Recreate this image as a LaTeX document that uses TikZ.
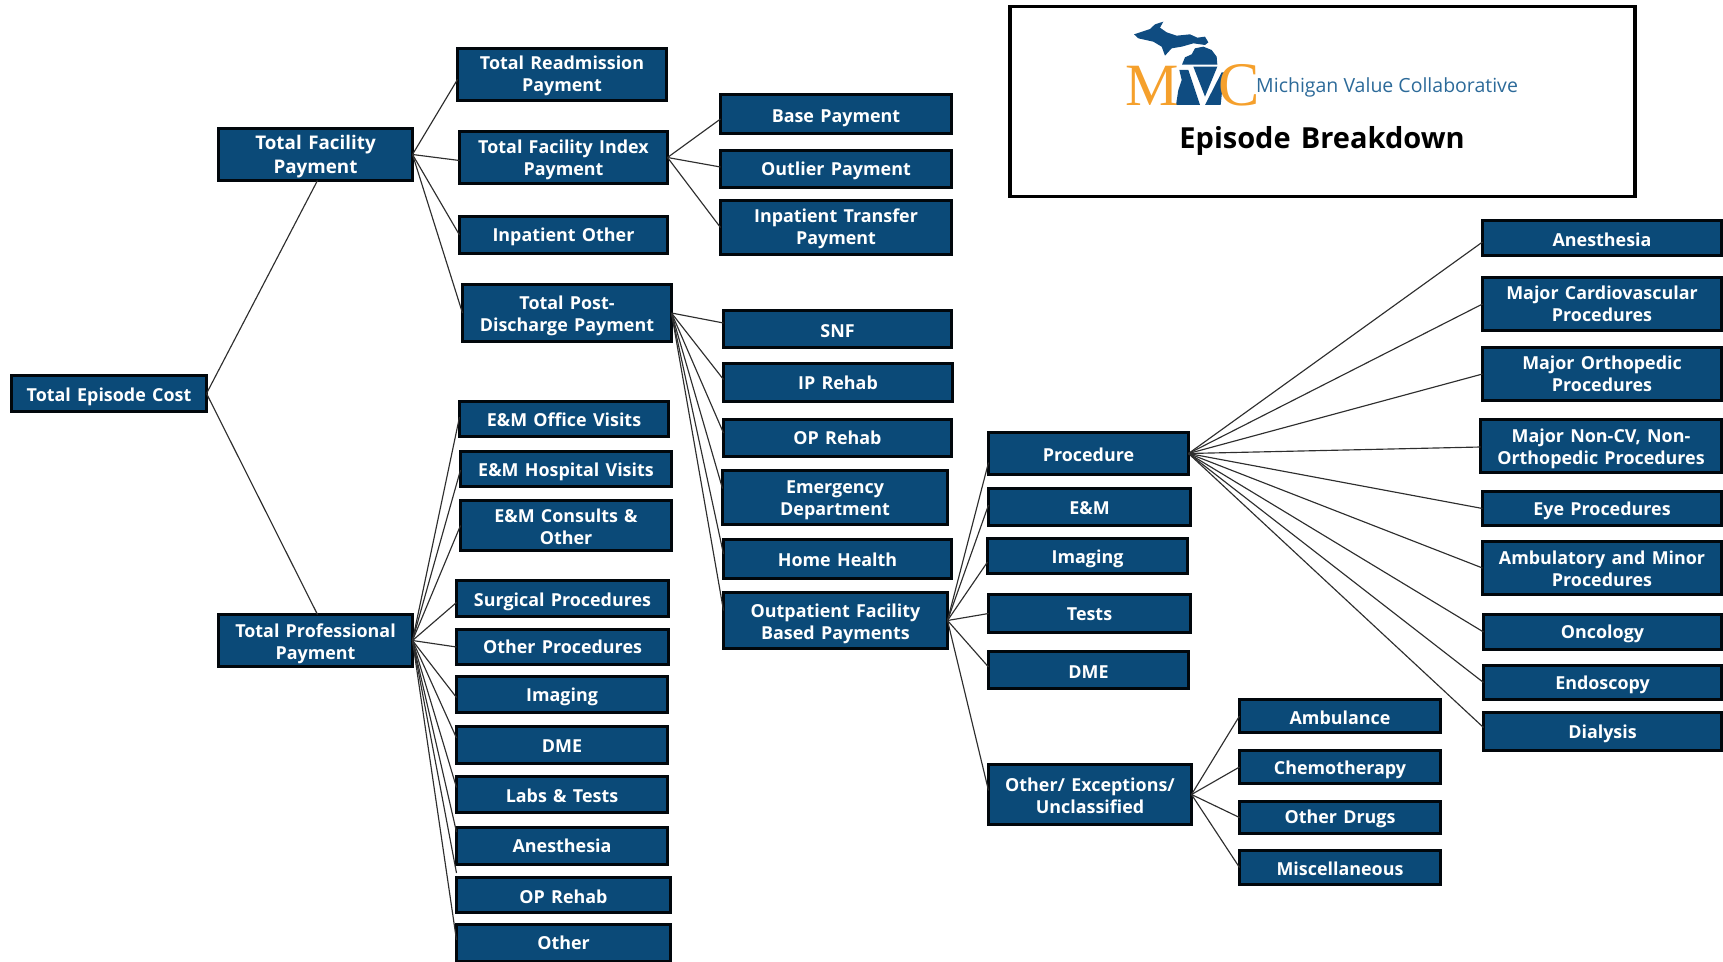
\documentclass[tikz,border=0pt]{standalone}
\usepackage{fontspec}
\setmainfont[WordSpace=1.35]{Open Sans}
\newfontfamily\logofont{Liberation Serif}
\newfontfamily\lognm{Open Sans}
\definecolor{boxblue}{HTML}{0B4A78}
\definecolor{logoblue}{HTML}{0F4C81}
\definecolor{logotxt}{HTML}{2C6A99}
\definecolor{logoor}{HTML}{F5A02C}
\definecolor{lnk}{HTML}{2E2E2E}
\tikzset{
  box/.style={draw=black!90!boxblue,line width=3pt,fill=boxblue,text=white,inner sep=0pt,outer sep=0pt,font=\fontsize{17.9}{22}\bfseries\selectfont},
  bigbox/.style={font=\fontsize{18.8}{23.5}\bfseries\selectfont},
  lk/.style={draw=lnk,line width=1.15pt},
  mich/.style={fill=logoblue,draw=none}
}
% [style]{name}{x0}{y0}{x1}{y1}{text drop}{text}
\newcommand{\bx}[8][]{\node[box,#1,minimum width={(#5-#3-3)*1pt},minimum height={(#6-#4-3)*1pt}] (#2) at ({(#3+#5)/2},{(#4+#6)/2}) {\raisebox{-#7pt}[\height][\depth]{\parbox{\dimexpr #5pt-#3pt-8pt\relax}{\centering #8}}};}
\newcommand{\cn}[3]{\draw[lk] (#1) -- ([yshift=-#3pt]#2.west);}
\begin{document}
\begin{tikzpicture}[x=1pt,y=-1pt]
\useasboundingbox (0,0) rectangle (1723,961);
\clip (0,0) rectangle (1723,961);
% header frame
\node[draw=black,line width=3.2pt,minimum width=625pt,minimum height=190pt,inner sep=0pt,outer sep=0pt] (frame) at (1322.5,101.5) {};
% logo
\begin{scope}[shift={(1110,15)},x=0.3333pt,y=-0.3333pt]
\fill[mich] (160,20)--(150,38)--(170,52)--(200,62)--(240,58)--(262,68)--(285,65)--(295,82)--(285,90)--(250,85)--(215,95)--(185,100)--(165,122)--(155,95)--(130,80)--(85,70)--(72,58)--(120,42)--(135,28)--cycle;
\fill[mich] (216,149)--(225,127)--(245,118)--(255,100)--(280,95)--(305,105)--(320,125)--(322,149)--cycle;
\fill[mich] (208,165)--(235,165)--(270,270)--(198,270)--(205,225)--(215,195)--cycle;
\fill[mich] (250,155)--(322,155)--(285,245)--cycle;
\fill[mich] (335,172)--(342,172)--(332,270)--(285,270)--cycle;
\end{scope}
\node[anchor=base west,inner sep=0pt,text=logoor,font=\logofont\fontsize{60}{60}\selectfont] (logom) at (1125,105) {M};
\node[anchor=base west,inner sep=0pt,text=logoor,font=\logofont\fontsize{62}{62}\selectfont] (logoc) at (1218,105) {C};
\node[anchor=west,inner sep=0pt,text=logotxt,font=\lognm\fontsize{19.5}{22}\selectfont] (logot) at (1256,87) {Michigan Value Collaborative};
\node[inner sep=0pt,text=black,font=\fontsize{29}{32}\bfseries\selectfont] (title) at (1322,141) {Episode Breakdown};
% column 1
\bx{root}{10}{374}{208}{413}{3}{Total Episode Cost}
\bx[bigbox]{tfp}{217}{127}{414}{182}{2}{Total Facility\\Payment}
\bx{tprof}{217}{613}{414}{668}{3}{Total Professional\\Payment}
% column 2
\bx{readm}{456}{47}{668}{102}{1}{Total Readmission\\Payment}
\bx{tfi}{458}{130}{669}{185}{2}{Total Facility Index\\Payment}
\bx{ipo}{458}{215}{669}{255}{2}{Inpatient Other}
\bx{post}{461}{283}{673}{343}{3}{Total Post-\\Discharge Payment}
\bx{emo}{458}{400}{670}{438}{1}{E\&M Office Visits}
\bx{emh}{459}{450}{673}{488}{3}{E\&M Hospital Visits}
\bx{emc}{459}{499}{673}{552}{1}{E\&M Consults \&\\Other}
\bx{surg}{455}{579}{670}{618}{3}{Surgical Procedures}
\bx{oproc}{455}{628}{670}{666}{0}{Other Procedures}
\bx{img}{455}{675}{669}{714}{2}{Imaging}
\bx{dme}{455}{725}{669}{765}{1}{DME}
\bx{labs}{455}{775}{669}{814}{1}{Labs \& Tests}
\bx{anes}{455}{826}{669}{866}{0}{Anesthesia}
\bx{oprp}{455}{876}{672}{914}{2}{OP Rehab}
\bx{oth}{455}{923}{672}{963}{0}{Other}
% column 3
\bx{base}{719}{93}{953}{135}{4}{Base Payment}
\bx{outl}{719}{149}{953}{189}{2}{Outlier Payment}
\bx{trans}{719}{199}{953}{256}{1}{Inpatient Transfer\\Payment}
\bx{snf}{722}{309}{953}{349}{2}{SNF}
\bx{iprh}{722}{362}{954}{403}{0}{IP Rehab}
\bx{oprh}{722}{418}{953}{458}{0}{OP Rehab}
\bx{ed}{721}{469}{949}{526}{3}{Emergency\\Department}
\bx{home}{722}{538}{953}{580}{1}{Home Health}
\bx{ofb}{722}{591}{949}{650}{3}{Outpatient Facility\\Based Payments}
% column 4
\bx{proc}{987}{431}{1190}{476}{1}{Procedure}
\bx{oem}{987}{487}{1192}{527}{1}{E\&M}
\bx{oimg}{986}{537}{1189}{575}{3}{Imaging}
\bx{otst}{987}{593}{1192}{634}{1}{Tests}
\bx{odme}{987}{650}{1190}{690}{2}{DME}
\bx{oexc}{987}{763}{1193}{826}{1}{Other/ Exceptions/\\Unclassified}
% column 5
\bx{amb}{1238}{698}{1442}{734}{2}{Ambulance}
\bx{chem}{1238}{749}{1442}{785}{3}{Chemotherapy}
\bx{drug}{1238}{800}{1442}{835}{1}{Other Drugs}
\bx{misc}{1238}{849}{1442}{886}{1}{Miscellaneous}
% column 6
\bx{pane}{1481}{219}{1723}{257}{2}{Anesthesia}
\bx{card}{1481}{276}{1723}{332}{0}{Major Cardiovascular\\Procedures}
\bx{orth}{1481}{346}{1723}{402}{0}{Major Orthopedic\\Procedures}
\bx{ncv}{1479}{418}{1723}{474}{3}{Major Non-CV, Non-\\Orthopedic Procedures}
\bx{eye}{1481}{490}{1723}{527}{2}{Eye Procedures}
\bx{ambm}{1481}{540}{1723}{596}{1}{Ambulatory and Minor\\Procedures}
\bx{onc}{1482}{613}{1723}{651}{2}{Oncology}
\bx{endo}{1482}{664}{1723}{701}{2}{Endoscopy}
\bx{dial}{1482}{711}{1723}{752}{2}{Dialysis}
% connectors
\draw[lk] (root.east) -- ([xshift=2pt]tfp.south);
\draw[lk] (root.east) -- ([xshift=2pt]tprof.north);
\cn{tfp.east}{readm}{5}
\cn{tfp.east}{tfi}{3}
\cn{tfp.east}{ipo}{0}
\cn{tfp.east}{post}{0}
\cn{tfi.east}{base}{5}
\cn{tfi.east}{outl}{-2}
\cn{tfi.east}{trans}{0}
\cn{post.east}{snf}{-6}
\cn{post.east}{iprh}{-3}
\cn{post.east}{oprh}{-5}
\cn{post.east}{ed}{-9}
\cn{post.east}{home}{-5}
\cn{post.east}{ofb}{-10}
\cn{tprof.east}{emo}{-2}
\cn{tprof.east}{emh}{1}
\cn{tprof.east}{emc}{0}
\cn{tprof.east}{surg}{4}
\cn{tprof.east}{oproc}{0}
\cn{tprof.east}{img}{3}
\cn{tprof.east}{dme}{-7}
\cn{tprof.east}{labs}{-7}
\cn{tprof.east}{anes}{-14}
\cn{tprof.east}{oprp}{-22}
\cn{tprof.east}{oth}{-3}
\cn{ofb.east}{proc}{9}
\cn{ofb.east}{oem}{-2}
\cn{ofb.east}{oimg}{6}
\cn{ofb.east}{otst}{0}
\cn{ofb.east}{odme}{-3}
\cn{ofb.east}{oexc}{-4}
\cn{oexc.east}{amb}{0}
\cn{oexc.east}{chem}{0}
\cn{oexc.east}{drug}{0}
\cn{oexc.east}{misc}{0}
\cn{proc.east}{pane}{4}
\cn{proc.east}{card}{0}
\cn{proc.east}{orth}{0}
\cn{proc.east}{ncv}{1}
\cn{proc.east}{eye}{0}
\cn{proc.east}{ambm}{0}
\cn{proc.east}{onc}{0}
\cn{proc.east}{endo}{0}
\cn{proc.east}{dial}{-4}
\end{tikzpicture}
\end{document}
